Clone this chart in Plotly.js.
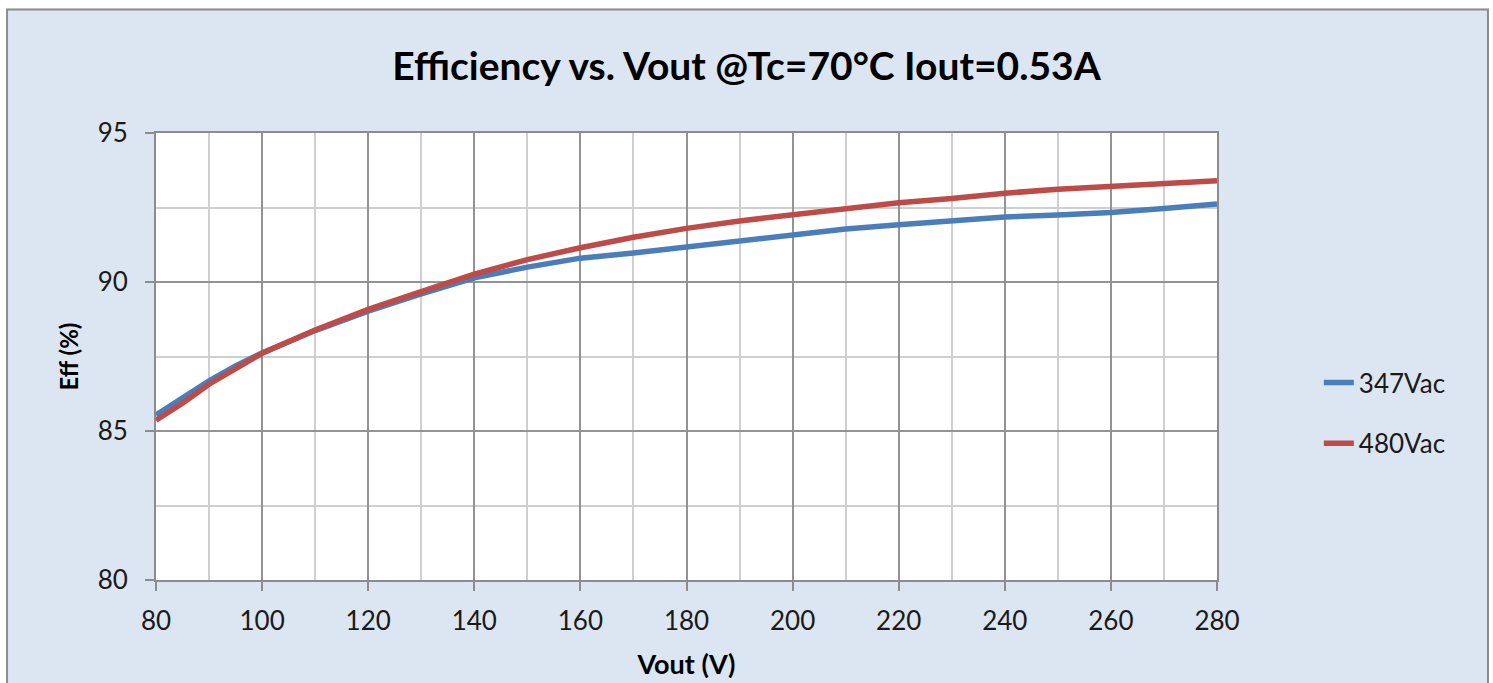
<!DOCTYPE html>
<html>
<head>
<meta charset="utf-8">
<script src="https://cdn.plot.ly/plotly-3.0.1.min.js"></script>
<style>
  html, body { margin: 0; padding: 0; background: #ffffff; }
  #chart { width: 1493px; height: 683px; }
</style>
</head>
<body>
<div id="chart"></div>
<script>
// Data
const vout = [80, 85, 90, 95, 100, 110, 120, 130, 140, 150, 160, 170, 180, 190, 200, 210, 220, 230, 240, 250, 260, 270, 280];
const eff347 = [85.54, 86.1, 86.68, 87.18, 87.62, 88.37, 89.02, 89.6, 90.14, 90.5, 90.8, 90.97, 91.18, 91.36, 91.58, 91.78, 91.92, 92.06, 92.18, 92.25, 92.33, 92.47, 92.62];
const eff480 = [85.36, 85.93, 86.57, 87.11, 87.61, 88.39, 89.08, 89.68, 90.26, 90.75, 91.15, 91.5, 91.8, 92.05, 92.25, 92.44, 92.66, 92.8, 92.98, 93.11, 93.22, 93.33, 93.4];
const seriesNames = ['347Vac', '480Vac'];
const titleText = 'Efficiency vs. Vout @Tc=70°C Iout=0.53A';
const xTitle = 'Vout (V)';
const yTitle = 'Eff (%)';

const FONT = 'Lato, "Open Sans", sans-serif';
const BG = '#dce6f2';

const traces = [
  { x: vout, y: eff347, name: seriesNames[0], mode: 'lines', legendgroup: 'a',
    line: { color: '#4a7ebb', width: 5.5 } },
  { x: vout, y: eff480, name: seriesNames[1], mode: 'lines', legendgroup: 'b',
    line: { color: '#be4b48', width: 5.5 } }
];

const layout = {
  width: 1493, height: 683,
  margin: { l: 156, r: 276, t: 133, b: 103, autoexpand: false },
  paper_bgcolor: BG,
  plot_bgcolor: '#ffffff',
  font: { family: FONT, color: '#1a1a1a', size: 26 },
  title: { text: titleText, font: { family: FONT, size: 39, color: '#000000', weight: 'bold' },
           x: 0.5, xref: 'container', xanchor: 'center', y: 1.17, yref: 'paper', yanchor: 'middle' },
  xaxis: {
    range: [80, 280], dtick: 20, tick0: 80,
    showgrid: true, gridcolor: '#939393', gridwidth: 2,
    minor: { dtick: 10, showgrid: true, gridcolor: '#cfcfcf', gridwidth: 2, ticks: '' },
    showline: true, linecolor: '#8c8c8c', linewidth: 2, mirror: true,
    ticks: 'outside', ticklen: 9, tickcolor: '#8c8c8c', tickwidth: 2,
    ticklabelstandoff: 8,
    tickfont: { family: FONT, size: 26, color: '#1a1a1a' },
    zeroline: false,
    title: { text: xTitle, font: { family: FONT, size: 27, color: '#000000', weight: 'bold' }, standoff: 20 }
  },
  yaxis: {
    range: [80, 95], dtick: 5, tick0: 80,
    showgrid: true, gridcolor: '#939393', gridwidth: 2,
    minor: { dtick: 2.5, showgrid: true, gridcolor: '#cfcfcf', gridwidth: 2, ticks: '' },
    showline: true, linecolor: '#8c8c8c', linewidth: 2, mirror: true,
    ticks: 'outside', ticklen: 9, tickcolor: '#8c8c8c', tickwidth: 2,
    ticklabelstandoff: 12,
    tickfont: { family: FONT, size: 26, color: '#1a1a1a' },
    zeroline: false,
    title: { text: yTitle, font: { family: FONT, size: 24, color: '#000000', weight: 'bold' }, standoff: 12 }
  },
  showlegend: true,
  legend: {
    x: 1.096, xanchor: 'left', y: 0.3736, yanchor: 'middle',
    bgcolor: 'rgba(0,0,0,0)', borderwidth: 0,
    font: { family: FONT, size: 26, color: '#1a1a1a' },
    traceorder: 'grouped', tracegroupgap: 24
  },
  shapes: [
    { type: 'rect', xref: 'paper', yref: 'paper', x0: -0.3, x1: -0.1414, y0: -0.4, y1: 1.5,
      fillcolor: '#ffffff', line: { width: 0 }, layer: 'above' },
    { type: 'rect', xref: 'paper', yref: 'paper', x0: -0.3, x1: 1.5, y0: 1.2785, y1: 1.5,
      fillcolor: '#ffffff', line: { width: 0 }, layer: 'above' },
    { type: 'rect', xref: 'paper', yref: 'paper', x0: 1.2564, x1: 1.5, y0: -0.4, y1: 1.5,
      fillcolor: '#ffffff', line: { width: 0 }, layer: 'above' },
    { type: 'rect', xref: 'paper', yref: 'paper', x0: -0.1404, x1: 1.2554, y0: -0.3, y1: 1.2763,
      fillcolor: 'rgba(0,0,0,0)', line: { color: '#8c8c8c', width: 2 }, layer: 'above' }
  ]
};

Plotly.newPlot('chart', traces, layout, { displayModeBar: false, staticPlot: true });
</script>
</body>
</html>
